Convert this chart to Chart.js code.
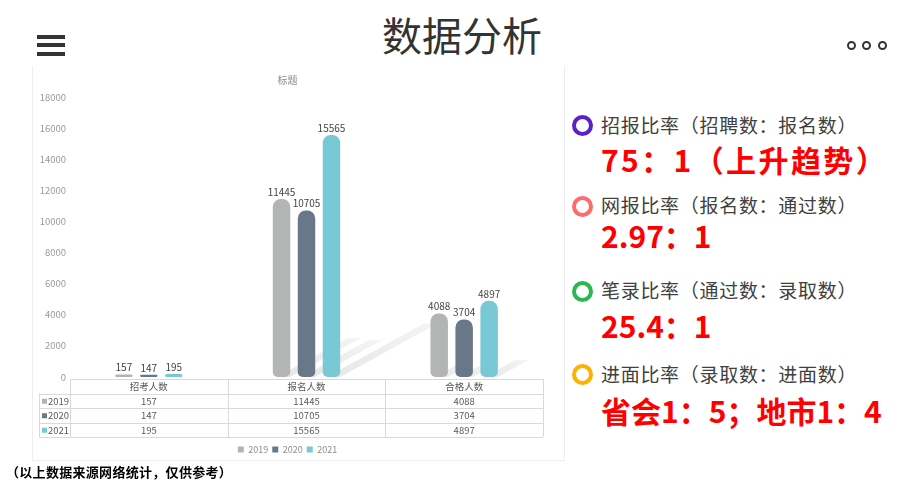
<!DOCTYPE html>
<html>
<head>
<meta charset="utf-8">
<script src="https://cdn.jsdelivr.net/npm/chart.js@4.4.1/dist/chart.umd.min.js"></script>
<style>
  html,body{margin:0;padding:0;}
  body{width:900px;height:489px;background:#fff;overflow:hidden;position:relative;
       font-family:"Noto Sans CJK SC","Noto Sans",sans-serif;}
  .abs{position:absolute;white-space:nowrap;}
  #pageTitle{left:0;width:924px;top:12px;text-align:center;font-size:40px;line-height:44px;color:#333;}
  .bar{position:absolute;left:37px;width:28px;height:4px;background:#333;}
  .dot{position:absolute;top:41px;width:5px;height:5px;border:2px solid #333;border-radius:50%;}
  #panel{position:absolute;left:32px;top:66px;width:533px;height:395px;
         border:1px solid #eeeeee;border-top:none;box-sizing:border-box;}
  #chartWrap{position:absolute;left:32px;top:68px;width:534px;height:396px;}
  .ring{position:absolute;width:13px;height:13px;border-radius:50%;border-width:4px;border-style:solid;}
  .lbl{font-size:19px;line-height:19px;color:#404040;letter-spacing:0.7px;}
  .big{font-size:30px;line-height:30px;color:#ff0000;font-weight:bold;}
  #foot{left:6px;top:464px;font-size:13px;line-height:15px;font-weight:bold;color:#000;letter-spacing:0.3px;}
</style>
</head>
<body>
<div id="pageTitle" class="abs">数据分析</div>
<div class="bar" style="top:35px"></div>
<div class="bar" style="top:43px"></div>
<div class="bar" style="top:52px"></div>
<div class="dot" style="left:847px"></div>
<div class="dot" style="left:862px"></div>
<div class="dot" style="left:878px"></div>

<div id="panel"></div>
<div id="chartWrap"><canvas id="c" width="534" height="396"></canvas></div>

<div class="ring" style="left:572px;top:115px;border-color:#5a22c6"></div>
<div class="abs lbl" style="left:601px;top:115px">招报比率（招聘数：报名数）</div>
<div class="abs big" style="left:601px;top:144px;letter-spacing:2.4px">75：1（上升趋势）</div>

<div class="ring" style="left:572px;top:196px;border-color:#ff6b6b"></div>
<div class="abs lbl" style="left:601px;top:195px">网报比率（报名数：通过数）</div>
<div class="abs big" style="left:601px;top:220px">2.97：1</div>

<div class="ring" style="left:572px;top:281px;border-color:#2db84f"></div>
<div class="abs lbl" style="left:601px;top:280px">笔录比率（通过数：录取数）</div>
<div class="abs big" style="left:601px;top:310px">25.4：1</div>

<div class="ring" style="left:572px;top:364px;border-color:#ffb000"></div>
<div class="abs lbl" style="left:601px;top:364px">进面比率（录取数：进面数）</div>
<div class="abs big" style="left:601px;top:395px">省会1：5；地市1：4</div>

<div id="foot" class="abs">（以上数据来源网络统计，仅供参考）</div>

<script>
// ---- data ----
const categories = ['招考人数', '报名人数', '合格人数'];
const seriesNames = ['2019', '2020', '2021'];
const values2019 = [157, 11445, 4088];
const values2020 = [147, 10705, 3704];
const values2021 = [195, 15565, 4897];
const seriesColors = ['#b3b4b4', '#697889', '#79c8d5'];
const yMin = 0, yMax = 18000, yStep = 2000;
const chartTitle = '标题';

const seriesValues = [values2019, values2020, values2021];

Chart.defaults.font.family = '"Noto Sans CJK SC","Noto Sans",sans-serif';

// shadows behind bars (derived from bar elements)
const shadowPlugin = {
  id: 'shadows',
  beforeDatasetsDraw(chart) {
    const ctx = chart.ctx;
    ctx.save();
    chart.data.datasets.forEach((ds, di) => {
      const meta = chart.getDatasetMeta(di);
      meta.data.forEach(el => {
        const h = el.base - el.y;
        if (h < 20) return;
        const w = el.width;
        const dx = 0.4 * h, dy = 0.22 * h;
        const x0 = el.x - w / 2 + 4, x1 = el.x + w / 2;
        const g = ctx.createLinearGradient(x0, el.base, x1 + dx, el.base - dy);
        g.addColorStop(0, 'rgba(205,205,205,0.5)');
        g.addColorStop(1, 'rgba(228,228,228,0.4)');
        ctx.fillStyle = g;
        ctx.beginPath();
        ctx.moveTo(x0, el.base);
        ctx.lineTo(x1, el.base);
        ctx.lineTo(x1 + dx, el.base - dy);
        ctx.lineTo(x0 + dx, el.base - dy);
        ctx.closePath();
        ctx.fill();
      });
    });
    ctx.restore();
  }
};

// value labels above bars
const labelPlugin = {
  id: 'valueLabels',
  afterDatasetsDraw(chart) {
    const ctx = chart.ctx;
    ctx.save();
    ctx.font = '10px "Noto Sans CJK SC","Noto Sans",sans-serif';
    ctx.fillStyle = '#444444';
    ctx.textAlign = 'center';
    ctx.textBaseline = 'bottom';
    chart.data.datasets.forEach((ds, di) => {
      const meta = chart.getDatasetMeta(di);
      meta.data.forEach((el, i) => {
        ctx.fillText(String(ds.data[i]), el.x, el.y - 2);
      });
    });
    ctx.restore();
  }
};

// data table under the plot
const tablePlugin = {
  id: 'dataTable',
  afterDraw(chart) {
    const ctx = chart.ctx;
    const xs = chart.scales.x;
    const left = xs.left, right = xs.right;
    const n = categories.length;
    const colW = (right - left) / n;
    const top = chart.chartArea.bottom + 2;
    const rowH = 14.5;
    const labelLeft = 7;
    ctx.save();
    ctx.strokeStyle = '#d9d9d9';
    ctx.lineWidth = 1;
    const L = v => Math.round(v) + 0.5;
    ctx.beginPath();
    ctx.moveTo(left, L(top)); ctx.lineTo(right, L(top));
    for (let r = 1; r <= seriesNames.length + 1; r++) {
      const y = L(top + r * rowH);
      ctx.moveTo(labelLeft, y); ctx.lineTo(right, y);
    }
    for (let c = 0; c <= n; c++) {
      const x = L(left + c * colW);
      ctx.moveTo(x, top); ctx.lineTo(x, top + (seriesNames.length + 1) * rowH);
    }
    ctx.moveTo(L(labelLeft), top + rowH); ctx.lineTo(L(labelLeft), top + (seriesNames.length + 1) * rowH);
    ctx.stroke();

    ctx.font = '9.5px "Noto Sans CJK SC","Noto Sans",sans-serif';
    ctx.fillStyle = '#595959';
    ctx.textBaseline = 'middle';
    ctx.textAlign = 'center';
    categories.forEach((c, i) => {
      ctx.fillText(c, xs.getPixelForValue(i), top + rowH / 2 + 0.5);
    });
    seriesNames.forEach((s, r) => {
      const yc = top + (r + 1) * rowH + rowH / 2 + 0.5;
      ctx.fillStyle = seriesColors[r];
      ctx.fillRect(labelLeft + 3, yc - 2.5, 5, 5);
      ctx.fillStyle = '#595959';
      ctx.textAlign = 'left';
      ctx.fillText(s, labelLeft + 9, yc);
      ctx.textAlign = 'center';
      seriesValues[r].forEach((v, i) => {
        ctx.fillText(String(v), xs.getPixelForValue(i), yc);
      });
    });
    ctx.restore();
  }
};

new Chart(document.getElementById('c'), {
  type: 'bar',
  data: {
    labels: categories,
    datasets: seriesNames.map((name, i) => ({
      label: name,
      data: seriesValues[i],
      backgroundColor: seriesColors[i],
      borderWidth: 0,
      borderSkipped: false,
      borderRadius: {topLeft: 8, topRight: 8, bottomLeft: 5, bottomRight: 5},
      categoryPercentage: 0.475,
      barPercentage: 0.7
    }))
  },
  options: {
    responsive: false,
    devicePixelRatio: 1,
    animation: false,
    layout: {padding: {left: 0, right: 23, top: 0, bottom: 0}},
    plugins: {
      title: {
        display: true,
        text: chartTitle,
        color: '#8c8c8c',
        font: {size: 10, weight: 'normal'},
        padding: {top: 6, bottom: 11}
      },
      legend: {
        position: 'bottom',
        labels: {
          boxWidth: 6, boxHeight: 6, padding: 4,
          color: '#8c8c8c',
          font: {size: 9}
        }
      },
      tooltip: {enabled: false}
    },
    scales: {
      x: {
        grid: {display: false, drawTicks: false},
        border: {display: false},
        ticks: {display: false},
        afterFit(scale) { scale.height = 64; }
      },
      y: {
        min: yMin, max: yMax,
        grid: {display: false, drawTicks: false},
        border: {display: false},
        ticks: {stepSize: yStep, color: '#999999', padding: 4, font: {size: 9.5},
                callback: v => String(v)},
        afterFit(scale) { scale.width = 38; }
      }
    }
  },
  plugins: [shadowPlugin, labelPlugin, tablePlugin]
});
</script>
</body>
</html>
